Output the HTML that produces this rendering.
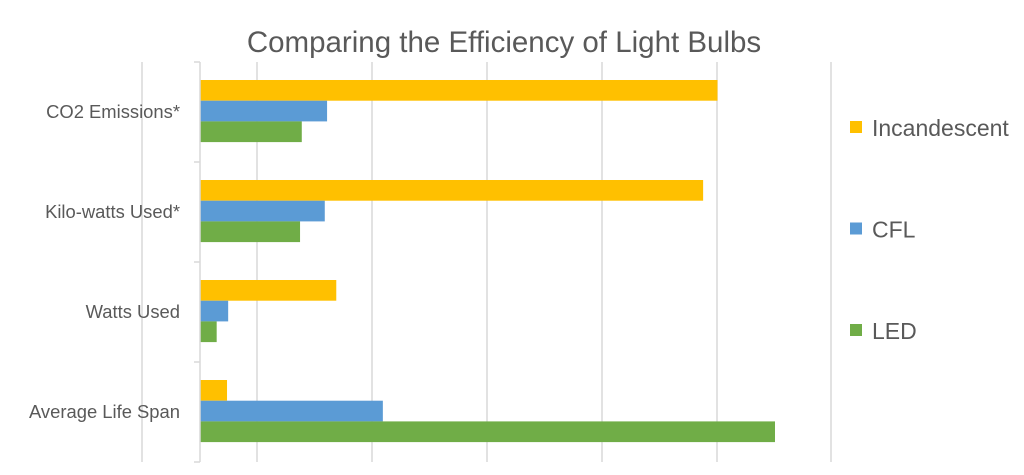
<!DOCTYPE html>
<html><head><meta charset="utf-8"><style>
body{margin:0;background:#fff;}
svg text{font-family:"Liberation Sans",sans-serif;fill:#595959;}
</style></head><body>
<svg width="1024" height="470">
<text x="504" y="52" font-size="29.5" text-anchor="middle">Comparing the Efficiency of Light Bulbs</text>
<g id="grid"></g><g id="bars"></g><g id="axis"></g><g id="legend"></g>
</svg>
<script>
const categories=["CO2 Emissions*","Kilo-watts Used*","Watts Used","Average Life Span"];
const seriesNames=["Incandescent","CFL","LED"];
const incandescent=[90,87.5,23.7,4.7];
const cfl=[22.1,21.7,4.9,31.8];
const led=[17.7,17.4,2.9,100];
const colors=["#FFC000","#5B9BD5","#70AD47"];
const ns="http://www.w3.org/2000/svg";
function el(t,a,p){const e=document.createElementNS(ns,t);for(const k in a)e.setAttribute(k,a[k]);p.appendChild(e);return e;}
const x0=200,xs=5.75,plotTop=62,band=100;
const xScale=v=>x0+v*xs;
const grid=document.getElementById("grid");
[142,257,372,487,602,717,831].forEach(gx=>{
 const l=el("line",{x1:gx,x2:gx,y1:plotTop,y2:462,stroke:"#d9d9d9","stroke-width":1.5},grid);
 
 
});
const bars=document.getElementById("bars");
const series=[incandescent,cfl,led];
categories.forEach((c,i)=>{
 const g0=plotTop+i*band+18;
 series.forEach((s,j)=>{
  const r=el("rect",{x:x0,y:g0+j*20.7,width:xScale(s[i])-x0,height:20.7,fill:colors[j]},bars);
  
  
 });
 const t=el("text",{x:180,y:plotTop+i*band+56,"font-size":18.4,"text-anchor":"end"},bars);
 t.textContent=c;
 
 
});
const ax=document.getElementById("axis");
const a=el("line",{x1:x0,x2:x0,y1:plotTop,y2:462,stroke:"#d9d9d9","stroke-width":1.5},ax);


for(let i=0;i<=categories.length;i++){
 const tk=el("line",{x1:x0-6,x2:x0,y1:plotTop+i*band,y2:plotTop+i*band,stroke:"#d9d9d9","stroke-width":1.5},ax);
 
 
}
const lg=document.getElementById("legend");
seriesNames.forEach((n,j)=>{
 const y=133+j*101.5;
 const r=el("rect",{x:850,y:y-12,width:12,height:12,fill:colors[j]},lg);
 
 
 const t=el("text",{x:872,y:y+3,"font-size":23},lg);
 t.textContent=n;
 
 
});
</script>
</body></html>
